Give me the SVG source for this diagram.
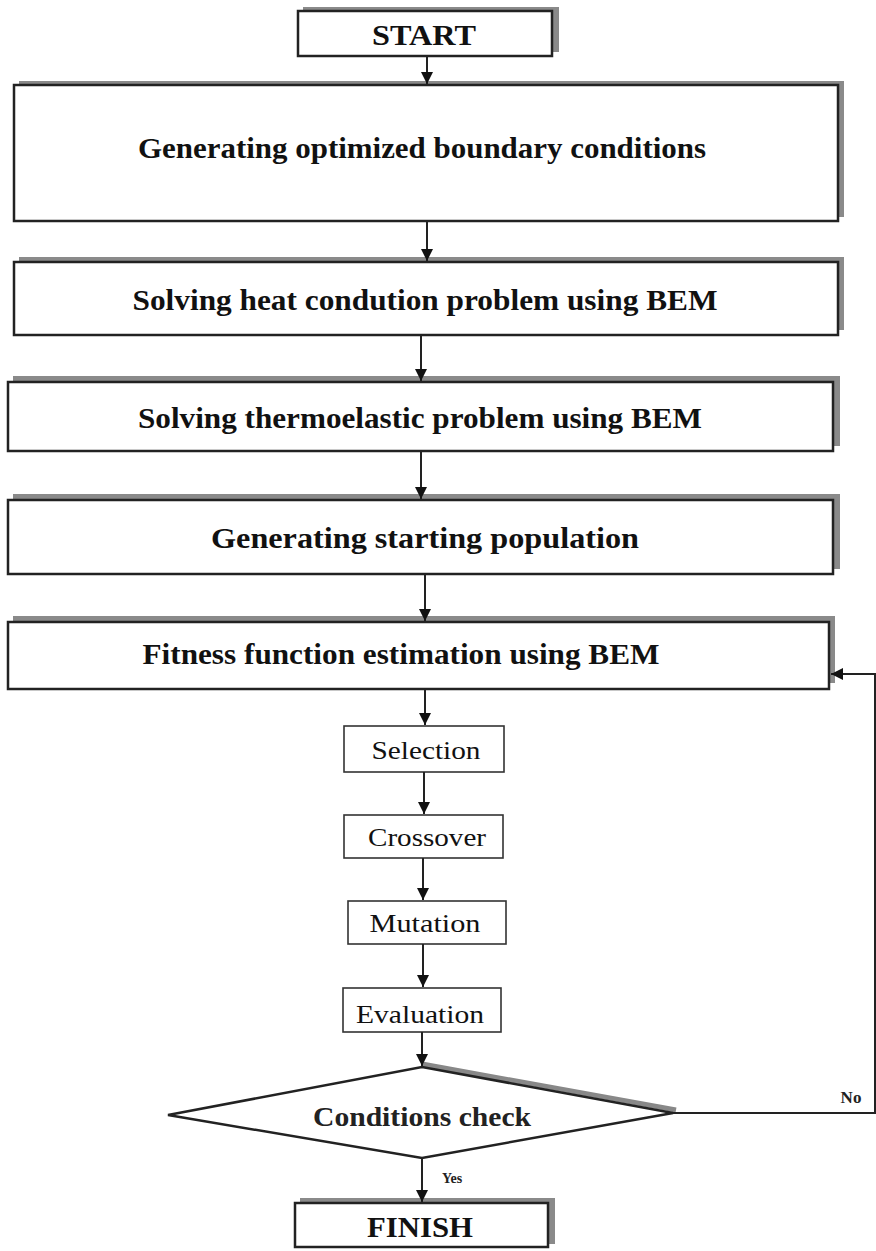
<svg xmlns="http://www.w3.org/2000/svg" width="876" height="1251" viewBox="0 0 876 1251">
<style>
.shadow{fill:#8a8a8a;}
.box{fill:#fff;stroke:#222;stroke-width:2.5;}
.sbox{fill:#fff;stroke:#333;stroke-width:1.6;}
.big{font-family:"Liberation Serif","Times New Roman",serif;font-weight:bold;font-size:30px;fill:#111;text-anchor:middle;}
.small{font-family:"Liberation Serif","Times New Roman",serif;font-size:26px;fill:#111;text-anchor:middle;}
.lbl{font-family:"Liberation Serif","Times New Roman",serif;font-weight:bold;fill:#222;text-anchor:middle;}
.conn{fill:none;stroke:#222;stroke-width:2;}
</style>
<defs>
<marker id="arr" markerWidth="12" markerHeight="14" refX="12" refY="7" orient="auto" markerUnits="userSpaceOnUse">
<path d="M0,1 L12,7 L0,13 Z" fill="#111"/>
</marker>
</defs>
<rect width="876" height="1251" fill="#fff"/>

<g id="start">
<rect class="shadow" x="303" y="7" width="256" height="45"/>
<rect class="box" x="298" y="11" width="254" height="45"/>
<text class="big" x="424" y="45" textLength="104" lengthAdjust="spacingAndGlyphs">START</text>
</g>

<g id="gen-boundary">
<rect class="shadow" x="19" y="81" width="825" height="136"/>
<rect class="box" x="14" y="85" width="824" height="136"/>
<text class="big" x="422" y="158" textLength="568" lengthAdjust="spacingAndGlyphs">Generating optimized boundary conditions</text>
</g>

<g id="heat">
<rect class="shadow" x="19" y="257" width="825" height="73"/>
<rect class="box" x="14" y="262" width="824" height="73"/>
<text class="big" x="425" y="310" textLength="585" lengthAdjust="spacingAndGlyphs">Solving heat condution problem using BEM</text>
</g>

<g id="thermo">
<rect class="shadow" x="13" y="376" width="827" height="70"/>
<rect class="box" x="8" y="382" width="825" height="69"/>
<text class="big" x="420" y="428" textLength="564" lengthAdjust="spacingAndGlyphs">Solving thermoelastic problem using BEM</text>
</g>

<g id="population">
<rect class="shadow" x="13" y="494" width="827" height="75"/>
<rect class="box" x="8" y="500" width="825" height="74"/>
<text class="big" x="425" y="548" textLength="428" lengthAdjust="spacingAndGlyphs">Generating starting population</text>
</g>

<g id="fitness">
<rect class="shadow" x="13" y="616" width="822" height="67"/>
<rect class="box" x="8" y="622" width="821" height="67"/>
<text class="big" x="401" y="664" textLength="517" lengthAdjust="spacingAndGlyphs">Fitness function estimation using BEM</text>
</g>

<g id="selection">
<rect class="sbox" x="344" y="726" width="160" height="46"/>
<text class="small" x="426" y="759" textLength="109" lengthAdjust="spacingAndGlyphs">Selection</text>
</g>

<g id="crossover">
<rect class="sbox" x="344" y="815" width="159" height="43"/>
<text class="small" x="427" y="846" textLength="118" lengthAdjust="spacingAndGlyphs">Crossover</text>
</g>

<g id="mutation">
<rect class="sbox" x="348" y="901" width="158" height="43"/>
<text class="small" x="425" y="932" textLength="111" lengthAdjust="spacingAndGlyphs">Mutation</text>
</g>

<g id="evaluation">
<rect class="sbox" x="343" y="988" width="158" height="44"/>
<text class="small" x="420" y="1023" textLength="128" lengthAdjust="spacingAndGlyphs">Evaluation</text>
</g>

<g id="check">
<path d="M422,1064 L676,1110" fill="none" stroke="#888" stroke-width="5"/>
<polygon points="168,1115 422,1067 673,1113 422,1158" fill="#fff" stroke="#222" stroke-width="2.5"/>
<text class="lbl" x="422" y="1126" font-size="27" textLength="218" lengthAdjust="spacingAndGlyphs">Conditions check</text>
</g>

<g id="finish">
<rect class="shadow" x="300" y="1198" width="255" height="46"/>
<rect class="box" x="295" y="1203" width="253" height="44"/>
<text class="big" x="420" y="1237" textLength="106" lengthAdjust="spacingAndGlyphs">FINISH</text>
</g>

<g id="connectors">
<line class="conn" x1="427" y1="56" x2="427" y2="84" marker-end="url(#arr)"/>
<line class="conn" x1="427" y1="221" x2="427" y2="261" marker-end="url(#arr)"/>
<line class="conn" x1="421" y1="335" x2="421" y2="381" marker-end="url(#arr)"/>
<line class="conn" x1="421" y1="451" x2="421" y2="499" marker-end="url(#arr)"/>
<line class="conn" x1="425" y1="574" x2="425" y2="621" marker-end="url(#arr)"/>
<line class="conn" x1="425" y1="689" x2="425" y2="725" marker-end="url(#arr)"/>
<line class="conn" x1="424" y1="772" x2="424" y2="814" marker-end="url(#arr)"/>
<line class="conn" x1="423" y1="858" x2="423" y2="900" marker-end="url(#arr)"/>
<line class="conn" x1="423" y1="944" x2="423" y2="987" marker-end="url(#arr)"/>
<line class="conn" x1="422" y1="1032" x2="422" y2="1066" marker-end="url(#arr)"/>
<line class="conn" x1="422" y1="1158" x2="422" y2="1202" marker-end="url(#arr)"/>
<polyline class="conn" points="673,1113 875,1113 875,674 831,674" marker-end="url(#arr)"/>
<text class="lbl" x="452" y="1183" font-size="14">Yes</text>
<text class="lbl" x="851" y="1103" font-size="17">No</text>
</g>
</svg>
